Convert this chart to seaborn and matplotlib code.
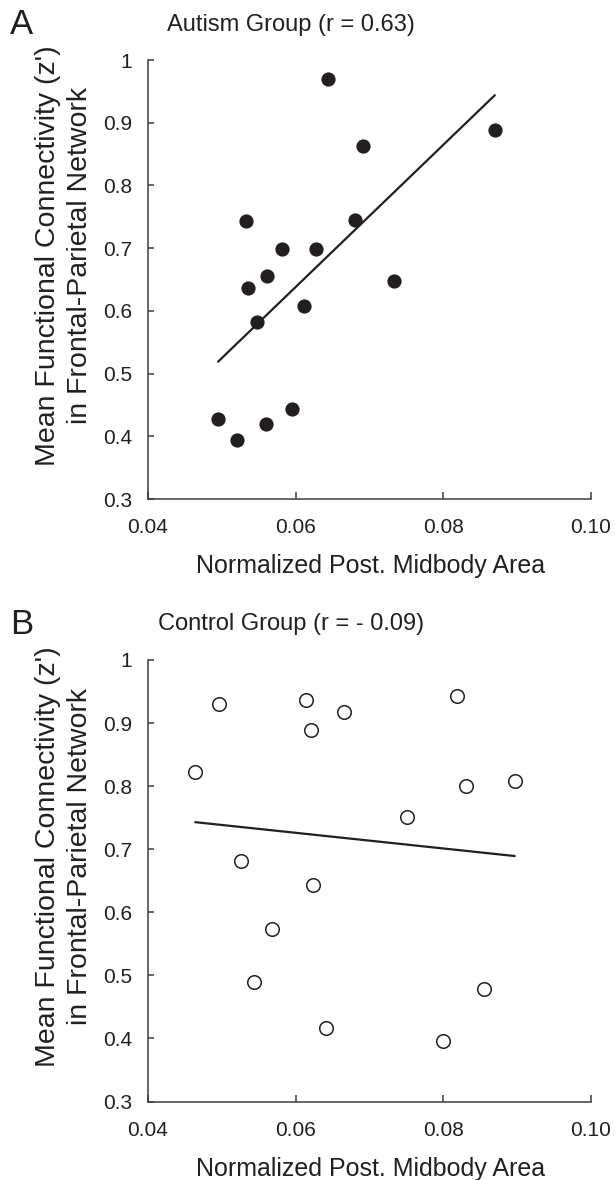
import pandas as pd
import numpy as np
import matplotlib
matplotlib.use("Agg")
import matplotlib.pyplot as plt
import seaborn as sns

# data
autism_area = [0.0644, 0.0870, 0.0691, 0.0533, 0.0680, 0.0581, 0.0628, 0.0561,
               0.0535, 0.0734, 0.0611, 0.0548, 0.0495, 0.0520, 0.0560, 0.0595]
autism_fc = [0.970, 0.889, 0.863, 0.743, 0.745, 0.698, 0.698, 0.655,
             0.636, 0.647, 0.608, 0.582, 0.428, 0.394, 0.420, 0.443]

control_area = [0.0496, 0.0614, 0.0665, 0.0621, 0.0819, 0.0464, 0.0831, 0.0897,
                0.0751, 0.0526, 0.0623, 0.0568, 0.0544, 0.0855, 0.0641, 0.0800]
control_fc = [0.930, 0.936, 0.917, 0.889, 0.943, 0.823, 0.800, 0.808,
              0.751, 0.682, 0.644, 0.573, 0.490, 0.479, 0.417, 0.396]

x_ticks = [0.04, 0.06, 0.08, 0.10]
x_tick_labels = ["0.04", "0.06", "0.08", "0.10"]
y_ticks = [0.3, 0.4, 0.5, 0.6, 0.7, 0.8, 0.9, 1.0]
y_tick_labels = ["0.3", "0.4", "0.5", "0.6", "0.7", "0.8", "0.9", "1"]

titles = ["Autism Group (r = 0.63)", "Control Group (r = - 0.09)"]
panel_letters = ["A", "B"]

df_a = pd.DataFrame({"area": autism_area, "fc": autism_fc})
df_c = pd.DataFrame({"area": control_area, "fc": control_fc})

sns.set_style("white")
plt.rcParams["font.family"] = ["Liberation Sans", "DejaVu Sans"]

ink = "#231f20"
axis_col = "#3c3c3c"

fig = plt.figure(figsize=(6.15, 11.8), dpi=100)
ax1 = fig.add_axes([0.2407, 0.5771, 0.7198, 0.3720])
ax2 = fig.add_axes([0.2407, 0.0665, 0.7198, 0.3742])

# Autism: filled dots
sns.regplot(data=df_a, x="area", y="fc", ax=ax1, ci=None, scatter=False,
            line_kws=dict(color=ink, lw=1.6))
sns.scatterplot(data=df_a, x="area", y="fc", ax=ax1, s=105, color=ink,
                edgecolor=ink, linewidth=0, zorder=3)

# Control: open circles
sns.regplot(data=df_c, x="area", y="fc", ax=ax2, ci=None, scatter=False,
            line_kws=dict(color=ink, lw=1.6))
sns.scatterplot(data=df_c, x="area", y="fc", ax=ax2, s=95, facecolor="white",
                edgecolor=ink, linewidth=1.1, zorder=3)

title_y = [1 - 25 / 1180, 1 - 624 / 1180]
for i, ax in enumerate([ax1, ax2]):
    ax.set_xlim(0.04, 0.10)
    ax.set_ylim(0.3, 1.0)
    ax.set_xticks(x_ticks)
    ax.set_xticklabels(x_tick_labels)
    ax.set_yticks(y_ticks)
    ax.set_yticklabels(y_tick_labels)
    for s in ["top", "right"]:
        ax.spines[s].set_visible(False)
    for s in ["left", "bottom"]:
        ax.spines[s].set_color(axis_col)
        ax.spines[s].set_linewidth(1.1)
    ax.tick_params(axis="y", direction="in", length=4, width=1.1, color=axis_col,
                   pad=11.5, labelsize=15, labelcolor=ink, left=True)
    ax.tick_params(axis="x", direction="in", length=5, width=1.1, color=axis_col,
                   pad=14, labelsize=15, labelcolor=ink, bottom=True)
    ax.set_xlabel("Normalized Post. Midbody Area", fontsize=18, color=ink)
    ax.xaxis.set_label_coords(0.503, -0.125)
    ax.set_ylabel("Mean Functional Connectivity (z')\nin Frontal-Parietal Network",
                  fontsize=20.5, color=ink, linespacing=1.3)
    ax.yaxis.set_label_coords(-0.124, 0.555)
    fig.text(291 / 615, title_y[i], titles[i], ha="center", va="center",
             fontsize=17, color=ink)
    fig.text(10 / 615, title_y[i], panel_letters[i], ha="left", va="center",
             fontsize=25, color=ink)

plt.savefig("out.png", dpi=100)
